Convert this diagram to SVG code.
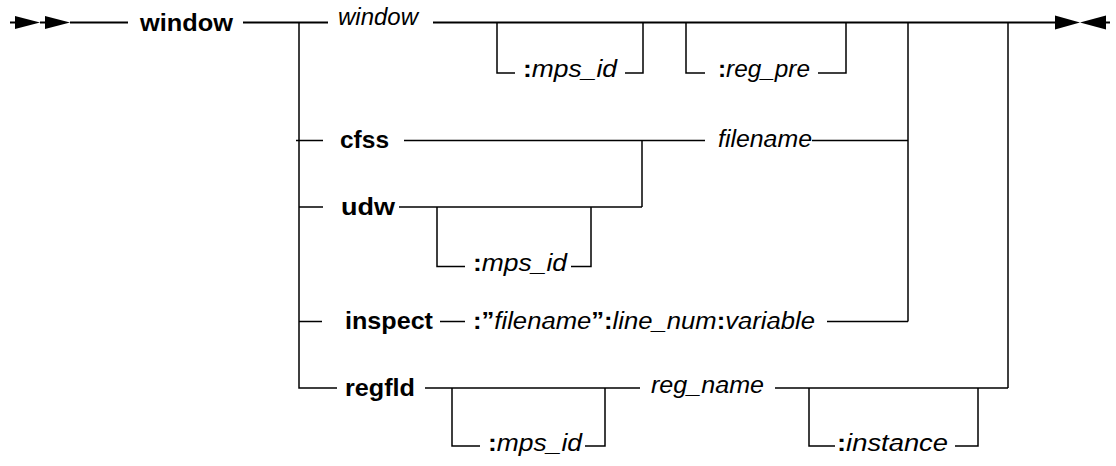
<svg xmlns="http://www.w3.org/2000/svg" width="1116" height="466" viewBox="0 0 1116 466">
<style>
  .ln{stroke:#000;stroke-width:1.5;fill:none}
  .main{stroke:#000;stroke-width:2;fill:none}
  .ah{fill:#000;stroke:none}
  text{font-family:"Liberation Sans",Arial,sans-serif;font-size:24.5px;fill:#000}
  .b{font-weight:bold}
  .i{font-style:italic}
</style>
<rect width="1116" height="466" fill="#fff"/>
<g id="connectors">
  <path class="main" d="M10,22.5H15 M40,22.5H45 M70,22.5H128 M243,22.5H328 M433,22.5H1055 M1106,22.5H1110"/>
  <polygon class="ah" points="15,16 40,22.5 15,29"/>
  <polygon class="ah" points="45,16 70,22.5 45,29"/>
  <polygon class="ah" points="1055,15.5 1080,22.5 1055,29.5"/>
  <polygon class="ah" points="1106,15.5 1080,22.5 1106,29.5"/>
  <path class="ln" d="M299,22.5V388H337"/>
  <path class="ln" d="M296,140.5H323 M299,207H323 M299,321.5H322"/>
  <path class="ln" d="M497,22.5V73H515 M625,73H643V22.5"/>
  <path class="ln" d="M686,22.5V73H705 M818,73H846V22.5"/>
  <path class="ln" d="M908,22.5V321.5"/>
  <path class="ln" d="M1008,22.5V388"/>
  <path class="ln" d="M404,140.5H705 M812,140.5H908"/>
  <path class="ln" d="M642,140.5V207"/>
  <path class="ln" d="M399,207H642"/>
  <path class="ln" d="M437,207V266.5H465 M571,266.5H591V207"/>
  <path class="ln" d="M440,321.5H465 M827,321.5H908"/>
  <path class="ln" d="M425,388H640 M775,388H1008"/>
  <path class="ln" d="M452,388V446H480 M585,446H605V388"/>
  <path class="ln" d="M809,388V446H835 M955,446H978V388"/>
</g>
<g id="n-window-kw"><text class="b" x="140" y="31" textLength="93" lengthAdjust="spacingAndGlyphs">window</text></g>
<g id="n-window-var"><text class="i" x="338" y="25" textLength="80" lengthAdjust="spacingAndGlyphs">window</text></g>
<g id="n-mps-id-1"><text x="523" y="77" textLength="94" lengthAdjust="spacingAndGlyphs"><tspan class="b">:</tspan><tspan class="i">mps_id</tspan></text></g>
<g id="n-reg-pre"><text x="718" y="77" textLength="92" lengthAdjust="spacingAndGlyphs"><tspan class="b">:</tspan><tspan class="i">reg_pre</tspan></text></g>
<g id="n-cfss"><text class="b" x="340" y="148" textLength="49" lengthAdjust="spacingAndGlyphs">cfss</text></g>
<g id="n-filename"><text class="i" x="718" y="147" textLength="94" lengthAdjust="spacingAndGlyphs">filename</text></g>
<g id="n-udw"><text class="b" x="341" y="215" textLength="54" lengthAdjust="spacingAndGlyphs">udw</text></g>
<g id="n-mps-id-2"><text x="473" y="271" textLength="94" lengthAdjust="spacingAndGlyphs"><tspan class="b">:</tspan><tspan class="i">mps_id</tspan></text></g>
<g id="n-inspect"><text class="b" x="345" y="329" textLength="88" lengthAdjust="spacingAndGlyphs">inspect</text></g>
<g id="n-inspect-arg"><text x="473" y="329" textLength="342" lengthAdjust="spacingAndGlyphs"><tspan class="b">:”</tspan><tspan class="i">filename</tspan><tspan class="b">”:</tspan><tspan class="i">line_num</tspan><tspan class="b">:</tspan><tspan class="i">variable</tspan></text></g>
<g id="n-regfld"><text class="b" x="345" y="396" textLength="70" lengthAdjust="spacingAndGlyphs">regfld</text></g>
<g id="n-mps-id-3"><text x="488" y="451" textLength="94" lengthAdjust="spacingAndGlyphs"><tspan class="b">:</tspan><tspan class="i">mps_id</tspan></text></g>
<g id="n-reg-name"><text class="i" x="651" y="393" textLength="113" lengthAdjust="spacingAndGlyphs">reg_name</text></g>
<g id="n-instance"><text x="837" y="451" textLength="111" lengthAdjust="spacingAndGlyphs"><tspan class="b">:</tspan><tspan class="i">instance</tspan></text></g>
</svg>
